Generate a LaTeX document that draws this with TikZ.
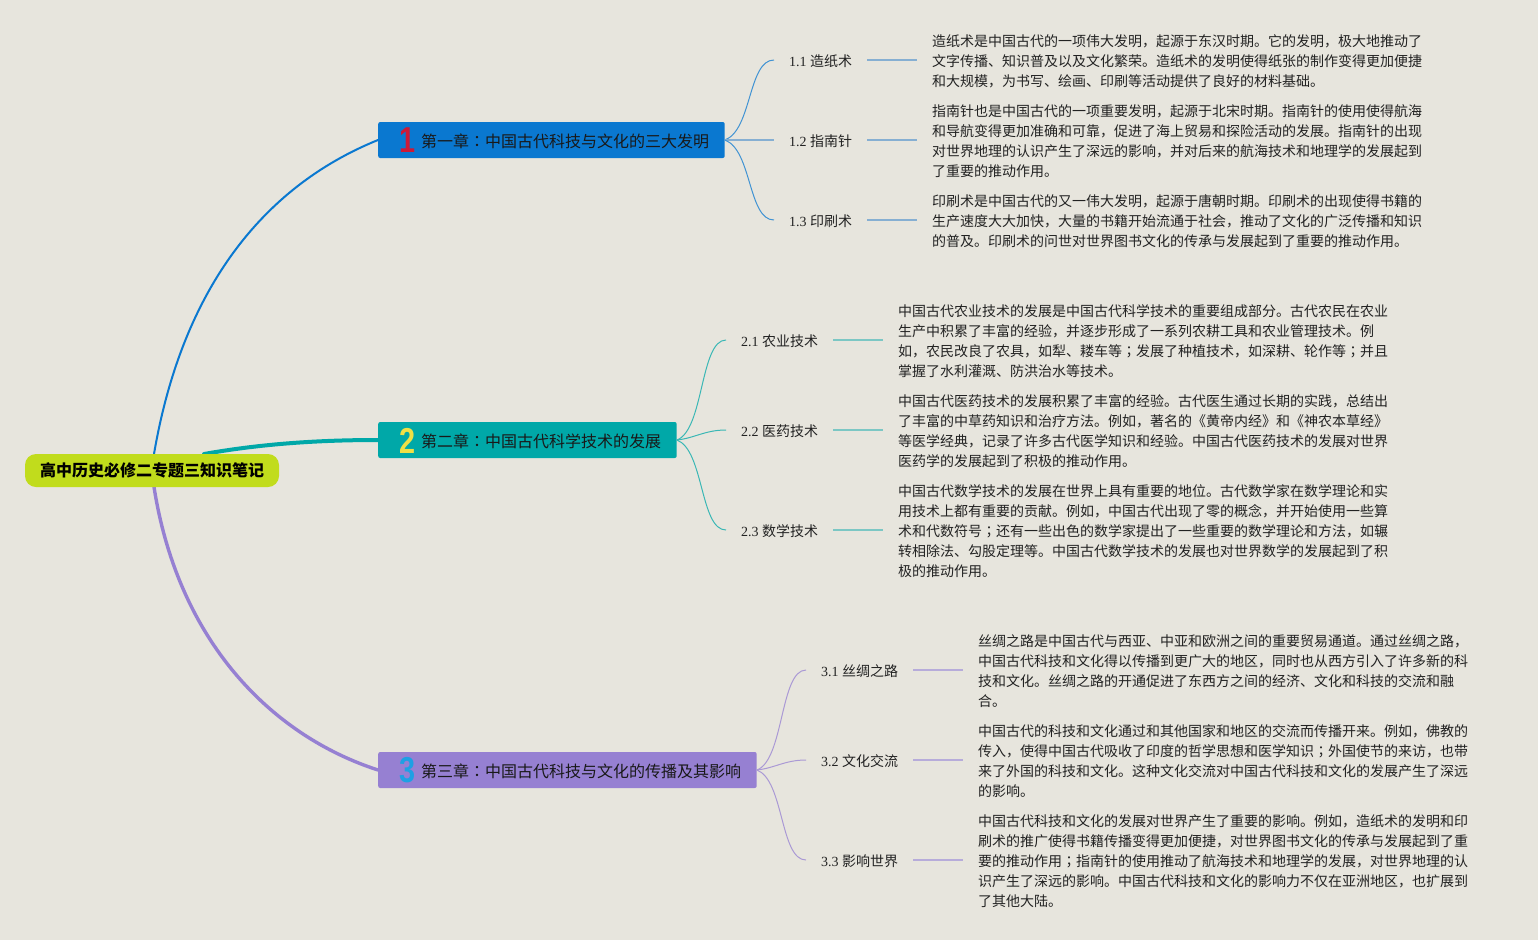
\documentclass[tikz,border=0pt]{standalone}
\usepackage{fontspec}
\setmainfont{Liberation Serif}
\newfontfamily\cjk{Noto Sans CJK SC}
\newfontfamily\cjktc{Noto Sans CJK TC}
\newfontfamily\numfont{Liberation Sans}
\newcommand{\cc}{{\cjktc：}}
\newcommand{\sm}{{\cjktc；}}
\definecolor{bgc}{HTML}{E7E5DD}
\definecolor{rootc}{HTML}{C1DC1C}
\definecolor{bluec}{HTML}{0A78D0}
\definecolor{tealc}{HTML}{00A8A8}
\definecolor{purpc}{HTML}{9680D2}
\definecolor{lblue}{HTML}{86AFD2}
\definecolor{lteal}{HTML}{7CC7C4}
\definecolor{lpurp}{HTML}{B7ACDA}
\definecolor{txt}{HTML}{222222}
\tikzset{
  rootnode/.style={fill=rootc,rounded corners=11pt,minimum width=254pt,minimum height=33pt,inner sep=0pt,font=\cjk\fontsize{16}{20}\selectfont\bfseries,text=black},
  chap/.style={rounded corners=2pt,minimum height=36pt,inner sep=0pt,anchor=west},
  chaptext/.style={anchor=west,inner sep=0pt,font=\cjk\fontsize{16}{20}\selectfont,text=black!90},
  numb/.style={inner sep=0pt,font=\numfont\bfseries\fontsize{36}{36}\selectfont},
  sublabel/.style={anchor=west,inner ysep=0pt,inner xsep=15pt,text height=14pt,text depth=0.4pt,font=\fontsize{14}{20}\selectfont,text=txt},
  detail/.style={anchor=west,inner ysep=0pt,inner xsep=15pt,align=left,font=\cjk\fontsize{14}{20}\selectfont,text=txt},
  major/.style={line cap=round},
  thin1/.style={draw=bluec!75!bgc,line width=1pt},
  thin2/.style={draw=tealc!75!bgc,line width=1pt},
  thin3/.style={draw=purpc!75!bgc,line width=1pt},
  conn1/.style={draw=lblue,line width=1.8pt},
  conn2/.style={draw=lteal,line width=1.6pt},
  conn3/.style={draw=lpurp,line width=1.6pt}
}
\begin{document}
\begin{tikzpicture}[x=1pt,y=-1pt]
\useasboundingbox[fill=bgc] (0,0) rectangle (1538,940);
\coordinate (r1) at (154,454);
\coordinate (r2) at (204,454);
\coordinate (r3) at (154,487);
\node[chap,fill=bluec,minimum width=346.5pt] (c1) at (378,140) {};
\node[chap,fill=tealc,minimum width=298.5pt] (c2) at (378,440) {};
\node[chap,fill=purpc,minimum width=378.5pt] (c3) at (378,770) {};
\draw[major,bluec,line width=2pt] (r1) .. controls (182,290) and (262,187) .. (c1.west);
\draw[major,tealc,line width=4pt] (r2) .. controls (255,445) and (310,440) .. (c2.west);
\draw[major,purpc,line width=3.4pt] (r3) .. controls (178,640) and (270,735) .. (c3.west);
\node[rootnode] (root) at (152,470.5) {高中历史必修二专题三知识笔记};
\node[chaptext] (t1) at (421,141) {第一章\cc 中国古代科技与文化的三大发明};
\node[chaptext] (t2) at (421,441) {第二章\cc 中国古代科学技术的发展};
\node[chaptext] (t3) at (421,771) {第三章\cc 中国古代科技与文化的传播及其影响};
\node[numb,text={rgb,255:red,205;green,25;blue,55},xscale=0.8] (n1) at (408,140) {1};
\node[numb,text={rgb,255:red,238;green,224;blue,70},xscale=0.8] (n2) at (408,441) {2};
\node[numb,text={rgb,255:red,30;green,160;blue,228},xscale=0.8] (n3) at (408,770) {3};
% sub labels
\node[sublabel] (l11) at (774,60) {1.1 {\cjk 造纸术}};
\node[sublabel] (l12) at (774,140) {1.2 {\cjk 指南针}};
\node[sublabel] (l13) at (774,220) {1.3 {\cjk 印刷术}};
\node[sublabel] (l21) at (726,340) {2.1 {\cjk 农业技术}};
\node[sublabel] (l22) at (726,430) {2.2 {\cjk 医药技术}};
\node[sublabel] (l23) at (726,530) {2.3 {\cjk 数学技术}};
\node[sublabel] (l31) at (806,670) {3.1 {\cjk 丝绸之路}};
\node[sublabel] (l32) at (806,760) {3.2 {\cjk 文化交流}};
\node[sublabel] (l33) at (806,860) {3.3 {\cjk 影响世界}};
% details
\node[detail] (d11) at (917,61) {造纸术是中国古代的一项伟大发明，起源于东汉时期。它的发明，极大地推动了\\文字传播、知识普及以及文化繁荣。造纸术的发明使得纸张的制作变得更加便捷\\和大规模，为书写、绘画、印刷等活动提供了良好的材料基础。};
\node[detail] (d12) at (917,141) {指南针也是中国古代的一项重要发明，起源于北宋时期。指南针的使用使得航海\\和导航变得更加准确和可靠，促进了海上贸易和探险活动的发展。指南针的出现\\对世界地理的认识产生了深远的影响，并对后来的航海技术和地理学的发展起到\\了重要的推动作用。};
\node[detail] (d13) at (917,221) {印刷术是中国古代的又一伟大发明，起源于唐朝时期。印刷术的出现使得书籍的\\生产速度大大加快，大量的书籍开始流通于社会，推动了文化的广泛传播和知识\\的普及。印刷术的问世对世界图书文化的传承与发展起到了重要的推动作用。};
\node[detail] (d21) at (883,341) {中国古代农业技术的发展是中国古代科学技术的重要组成部分。古代农民在农业\\生产中积累了丰富的经验，并逐步形成了一系列农耕工具和农业管理技术。例\\如，农民改良了农具，如犁、耧车等\sm 发展了种植技术，如深耕、轮作等\sm 并且\\掌握了水利灌溉、防洪治水等技术。};
\node[detail] (d22) at (883,431) {中国古代医药技术的发展积累了丰富的经验。古代医生通过长期的实践，总结出\\了丰富的中草药知识和治疗方法。例如，著名的《黄帝内经》和《神农本草经》\\等医学经典，记录了许多古代医学知识和经验。中国古代医药技术的发展对世界\\医药学的发展起到了积极的推动作用。};
\node[detail] (d23) at (883,531) {中国古代数学技术的发展在世界上具有重要的地位。古代数学家在数学理论和实\\用技术上都有重要的贡献。例如，中国古代出现了零的概念，并开始使用一些算\\术和代数符号\sm 还有一些出色的数学家提出了一些重要的数学理论和方法，如辗\\转相除法、勾股定理等。中国古代数学技术的发展也对世界数学的发展起到了积\\极的推动作用。};
\node[detail] (d31) at (963,671) {丝绸之路是中国古代与西亚、中亚和欧洲之间的重要贸易通道。通过丝绸之路，\\中国古代科技和文化得以传播到更广大的地区，同时也从西方引入了许多新的科\\技和文化。丝绸之路的开通促进了东西方之间的经济、文化和科技的交流和融\\合。};
\node[detail] (d32) at (963,761) {中国古代的科技和文化通过和其他国家和地区的交流而传播开来。例如，佛教的\\传入，使得中国古代吸收了印度的哲学思想和医学知识\sm 外国使节的来访，也带\\来了外国的科技和文化。这种文化交流对中国古代科技和文化的发展产生了深远\\的影响。};
\node[detail] (d33) at (963,861) {中国古代科技和文化的发展对世界产生了重要的影响。例如，造纸术的发明和印\\刷术的推广使得书籍传播变得更加便捷，对世界图书文化的传承与发展起到了重\\要的推动作用\sm 指南针的使用推动了航海技术和地理学的发展，对世界地理的认\\识产生了深远的影响。中国古代科技和文化的影响力不仅在亚洲地区，也扩展到\\了其他大陆。};
% sub edges
\draw[thin1] (c1.east) .. controls (752,130) and (748,60) .. (l11.west);
\draw[conn1] (c1.east) -- (l12.west);
\draw[thin1] (c1.east) .. controls (752,150) and (748,220) .. (l13.west);
\draw[thin2] (c2.east) .. controls (704,430) and (700,340) .. (l21.west);
\draw[thin2] (c2.east) .. controls (695,438) and (705,430) .. (l22.west);
\draw[thin2] (c2.east) .. controls (704,450) and (700,530) .. (l23.west);
\draw[thin3] (c3.east) .. controls (784,760) and (780,670) .. (l31.west);
\draw[thin3] (c3.east) .. controls (775,768) and (785,760) .. (l32.west);
\draw[thin3] (c3.east) .. controls (784,780) and (780,860) .. (l33.west);
% connectors
\draw[conn1] (l11.east) -- (l11.east -| d11.west);
\draw[conn1] (l12.east) -- (l12.east -| d12.west);
\draw[conn1] (l13.east) -- (l13.east -| d13.west);
\draw[conn2] (l21.east) -- (l21.east -| d21.west);
\draw[conn2] (l22.east) -- (l22.east -| d22.west);
\draw[conn2] (l23.east) -- (l23.east -| d23.west);
\draw[conn3] (l31.east) -- (l31.east -| d31.west);
\draw[conn3] (l32.east) -- (l32.east -| d32.west);
\draw[conn3] (l33.east) -- (l33.east -| d33.west);
\end{tikzpicture}
\end{document}
